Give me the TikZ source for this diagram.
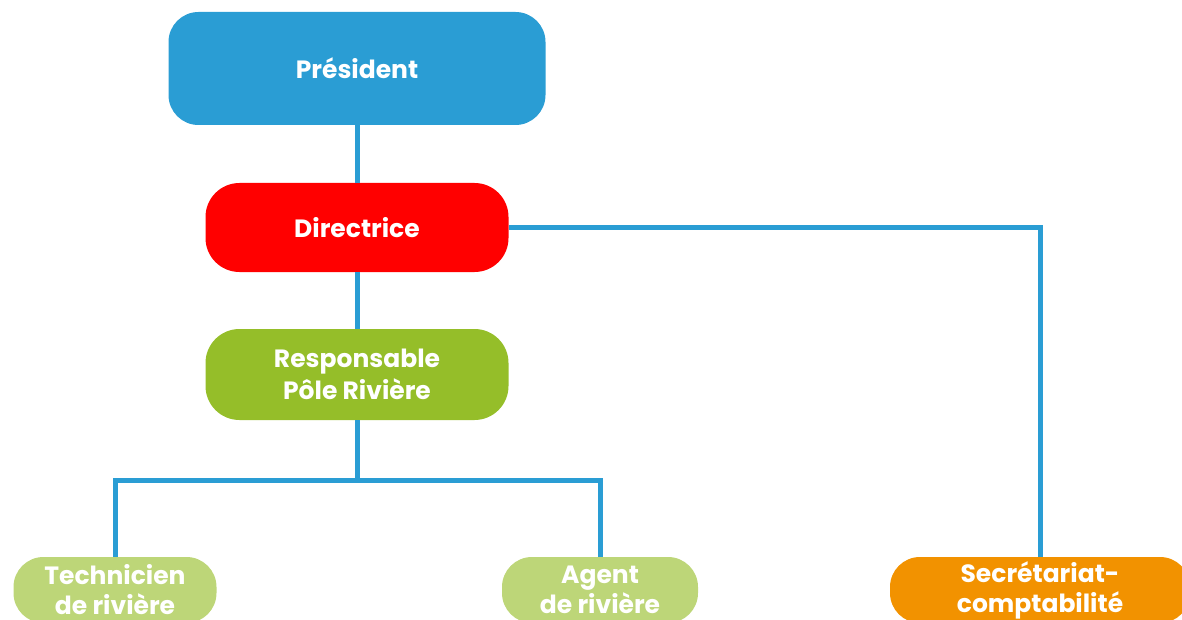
\documentclass[tikz,border=0pt]{standalone}
\usepackage{fontspec}
\setmainfont{Poppins}
\usetikzlibrary{calc}
\definecolor{presbleu}{RGB}{42,157,212}
\definecolor{dirrouge}{RGB}{255,0,0}
\definecolor{respvert}{RGB}{149,190,41}
\definecolor{agentvert}{RGB}{189,214,120}
\definecolor{secorange}{RGB}{242,146,0}

\begin{document}
\begin{tikzpicture}[x=0.5pt,y=-0.5pt,
  boite/.style={rounded corners=15pt,text=white,align=center,inner sep=0pt,
    font=\bfseries\fontsize{12.5}{15}\selectfont},
  lien/.style={line width=2.5pt,presbleu}]
\useasboundingbox (0,0) rectangle (1182,620);
\clip (0,0) rectangle (1182,620);
\node[boite,fill=presbleu,minimum width=188.5pt,minimum height=56.5pt] (pres) at (357,68.5) {Président};
\node[boite,fill=dirrouge,minimum width=151.5pt,minimum height=44.5pt,rounded corners=17pt] (dir) at (357,227.5) {Directrice};
\node[boite,fill=respvert,minimum width=151.5pt,minimum height=45.5pt,rounded corners=17pt,
  font=\bfseries\fontsize{12.5}{16}\selectfont] (resp) at (357,374.5) {Responsable\\Pôle Rivière};
\node[boite,fill=agentvert,minimum width=101.5pt,minimum height=33pt] (tech) at (115,590) {Technicien\\de rivière};
\node[boite,fill=agentvert,minimum width=98pt,minimum height=33pt] (agent) at (600,590) {Agent\\de rivière};
\node[boite,fill=secorange,minimum width=150pt,minimum height=33pt] (sec) at (1040,590) {Secrétariat-\\comptabilité};
\coordinate (fourche) at (357,480);
% liens
\draw[lien] (pres) -- (dir);
\draw[lien] (dir) -- (resp);
\draw[lien] (resp) -- (fourche);
\draw[lien] (tech.north) |- (fourche) -| (agent.north);
\draw[lien] (dir.east) -| (sec.north);
\end{tikzpicture}
\end{document}
